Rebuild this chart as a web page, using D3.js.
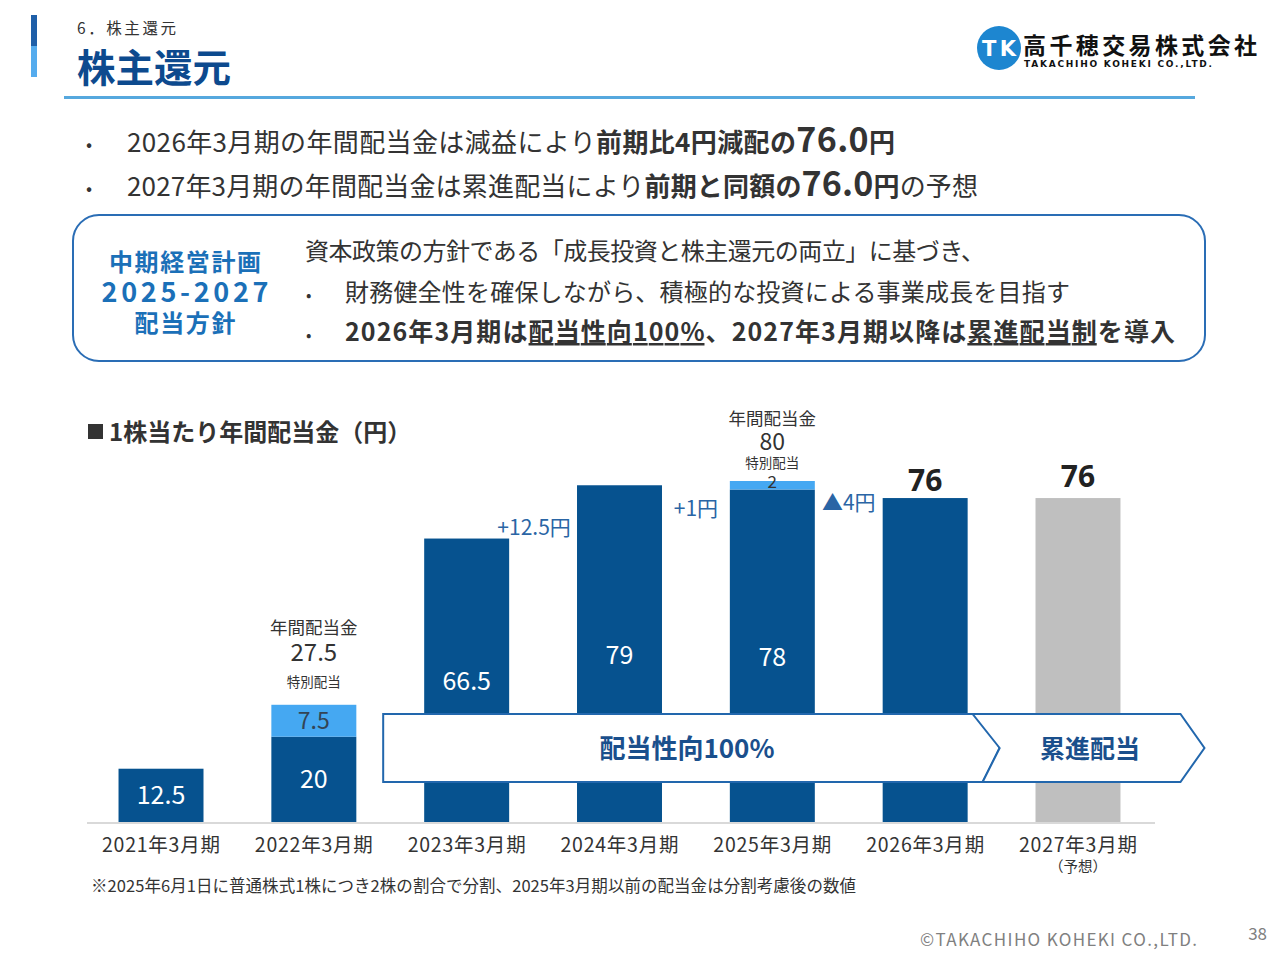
<!DOCTYPE html>
<html>
<head>
<meta charset="utf-8">
<script src="https://cdn.jsdelivr.net/npm/d3@7"></script>
<style>
  body { margin: 0; background: #fff; }
  svg { display: block; }
</style>
</head>
<body>
<script>
// 1株当たり年間配当金（円）
const periods = ["2021年3月期", "2022年3月期", "2023年3月期", "2024年3月期", "2025年3月期", "2026年3月期", "2027年3月期"];
const regular = [12.5, 20, 66.5, 79, 78, 76, 76];
const special = [0, 7.5, 0, 0, 2, 0, 0];
const forecast = [false, false, false, false, false, false, true];
const changeLabels = ["", "", "", "+12.5円", "+1円", "▲4円", ""];
const bannerLabels = ["配当性向100%", "累進配当"];

const width = 1280;
const height = 960;
const JP = "'Noto Sans CJK JP', 'Noto Sans', sans-serif";
const dark = "#06528f";
const light = "#45a8f2";
const grey = "#bfbfbf";
const textCol = "#333333";

const svg = d3.select("body").append("svg")
    .attr("width", width)
    .attr("height", height)
    .style("font-family", JP);

// ---- header ----
svg.append("rect").attr("x", 31).attr("y", 15).attr("width", 6).attr("height", 31).attr("fill", "#1f5fa8");
svg.append("rect").attr("x", 31).attr("y", 46).attr("width", 6).attr("height", 31).attr("fill", "#55acee");
svg.append("text").attr("x", 77).attr("y", 34).text("6．株主還元")
    .style("font-size", "15.5px").style("fill", textCol).attr("textLength", 99);
svg.append("text").attr("x", 77).attr("y", 82).text("株主還元")
    .style("font-size", "38.5px").style("font-weight", 700).style("fill", "#0d4a8e");
svg.append("rect").attr("x", 64).attr("y", 96).attr("width", 1131).attr("height", 3).attr("fill", "#56a8de");

// logo
svg.append("circle").attr("cx", 999).attr("cy", 48).attr("r", 22).attr("fill", "#1d86d0");
svg.append("text").attr("x", 999).attr("y", 56).text("TK")
    .style("font-family", "'DejaVu Sans', sans-serif").style("font-size", "21px").style("font-weight", 700)
    .style("fill", "#fff").style("text-anchor", "middle").attr("textLength", 34);
svg.append("text").attr("x", 1023).attr("y", 54).text("高千穂交易株式会社")
    .style("font-size", "23px").style("font-weight", 700).style("fill", "#111").attr("textLength", 234);
svg.append("text").attr("x", 1024).attr("y", 67).text("TAKACHIHO KOHEKI CO.,LTD.")
    .style("font-family", "'DejaVu Sans', sans-serif").style("font-size", "9px").style("font-weight", 700)
    .style("fill", "#111").attr("textLength", 188);

// ---- bullets ----
function bulletLine(x, y, parts, size, len) {
    const t = svg.append("text").attr("x", x).attr("y", y).style("fill", textCol).style("font-size", size + "px");
    parts.forEach(p => {
        const s = t.append("tspan").text(p.t);
        if (p.b) s.style("font-weight", 700);
        if (p.s) s.style("font-size", p.s + "px");
        if (p.u) s.style("text-decoration", "underline");
    });
    if (len) t.attr("textLength", len);
    return t;
}
svg.append("text").attr("x", 86).attr("y", 151).text("•").style("font-size", "18px").style("fill", textCol);
svg.append("text").attr("x", 86).attr("y", 195).text("•").style("font-size", "18px").style("fill", textCol);
bulletLine(127, 152, [
    {t: "2026年3月期の年間配当金は減益により"},
    {t: "前期比4円減配の", b: true},
    {t: "76.0", b: true, s: 34},
    {t: "円", b: true}
], 26, 768);
bulletLine(127, 196, [
    {t: "2027年3月期の年間配当金は累進配当により"},
    {t: "前期と同額の", b: true},
    {t: "76.0", b: true, s: 34},
    {t: "円", b: true},
    {t: "の予想"}
], 26, 851);

// ---- policy box ----
svg.append("rect").attr("x", 73).attr("y", 215).attr("width", 1132).attr("height", 146).attr("rx", 26)
    .attr("fill", "none").attr("stroke", "#2a6db5").attr("stroke-width", 2);
[["中期経営計画", 271, 24, 152], ["2025-2027", 302, 27, 167], ["配当方針", 332, 24, 101]].forEach(d => {
    svg.append("text").attr("x", 185).attr("y", d[1]).text(d[0])
        .style("font-size", d[2] + "px").style("font-weight", 700).style("fill", "#1b70b8")
        .style("text-anchor", "middle").attr("textLength", d[3]);
});
bulletLine(305, 260, [{t: "資本政策の方針である「成長投資と株主還元の両立」に基づき、"}], 24, 680);
svg.append("text").attr("x", 306).attr("y", 301).text("•").style("font-size", "16px").style("fill", textCol);
svg.append("text").attr("x", 306).attr("y", 341).text("•").style("font-size", "16px").style("fill", textCol);
bulletLine(345, 301, [{t: "財務健全性を確保しながら、積極的な投資による事業成長を目指す"}], 24, 725);
bulletLine(345, 341, [
    {t: "2026年3月期は", b: true},
    {t: "配当性向100%", b: true, u: true},
    {t: "、2027年3月期以降は", b: true},
    {t: "累進配当制", b: true, u: true},
    {t: "を導入", b: true}
], 25, 830);

// ---- chart ----
svg.append("rect").attr("x", 88).attr("y", 424).attr("width", 15).attr("height", 15).attr("fill", textCol);
svg.append("text").attr("x", 109).attr("y", 441).text("1株当たり年間配当金（円）")
    .style("font-size", "24px").style("font-weight", 700).style("fill", textCol);

const x = d3.scaleBand()
    .domain(periods)
    .range([84.6, 1154.4])
    .paddingInner(0.444)
    .paddingOuter(0.222);
const y = d3.scaleLinear()
    .domain([0, 80])
    .range([822, 481]);
const bw = x.bandwidth();

const rows = periods.map((p, i) => ({p, reg: regular[i], sp: special[i], fc: forecast[i], ch: changeLabels[i], i}));

const bars = svg.append("g");
bars.selectAll("rect.reg").data(rows).join("rect")
    .attr("class", "reg")
    .attr("x", d => x(d.p)).attr("width", bw)
    .attr("y", d => y(d.reg)).attr("height", d => y(0) - y(d.reg))
    .attr("fill", d => d.fc ? grey : dark);
bars.selectAll("rect.sp").data(rows.filter(d => d.sp > 0)).join("rect")
    .attr("class", "sp")
    .attr("x", d => x(d.p)).attr("width", bw)
    .attr("y", d => y(d.reg + d.sp)).attr("height", d => y(d.reg) - y(d.reg + d.sp))
    .attr("fill", light);

// axis
const axis = svg.append("g")
    .attr("transform", `translate(0,${y(0)})`)
    .call(d3.axisBottom(x).tickSize(0).tickPadding(16));
axis.select(".domain").attr("stroke", "#d9d9d9").attr("stroke-width", 2).attr("d", "M87,1H1155");
axis.selectAll(".tick text")
    .style("font-family", JP).style("font-size", "19.5px").style("fill", textCol)
    .attr("textLength", 118);
axis.selectAll(".tick").filter(d => forecast[periods.indexOf(d)])
    .append("text").attr("y", 50).text("（予想）")
    .style("font-family", JP).style("font-size", "14.5px").style("fill", textCol)
    .style("text-anchor", "middle");

// banner (drawn over bars)
const i2 = periods[2], i5 = periods[5], i6 = periods[6];
const bTop = 714, bBot = 782, bMid = (bTop + bBot) / 2;
const bLeft = x(i2) - 41;
const bSplit = x(i5) + bw + 15;
const bEnd = x(i6) + bw + 60;
const tip = 17, tip2 = 24;
const banner = svg.append("g");
banner.append("path")
    .attr("d", `M${bLeft},${bTop}H${bSplit}L${bSplit + tip},${bMid}L${bSplit},${bBot}H${bLeft}Z`)
    .attr("fill", "#fff").attr("stroke", "#2267ad").attr("stroke-width", 2);
banner.append("path")
    .attr("d", `M${bSplit - 10},${bTop}H${bEnd}L${bEnd + tip2},${bMid}L${bEnd},${bBot}H${bSplit}L${bSplit + tip},${bMid}Z`)
    .attr("fill", "#fff").attr("stroke", "#2267ad").attr("stroke-width", 2);
banner.append("text").attr("x", (bLeft + bSplit) / 2 + 4).attr("y", bMid + 10).text(bannerLabels[0])
    .style("font-size", "26px").style("font-weight", 700).style("fill", "#1a4f8c").style("text-anchor", "middle");
banner.append("text").attr("x", (bSplit + tip + bEnd) / 2).attr("y", bMid + 10).text(bannerLabels[1])
    .style("font-size", "25px").style("font-weight", 700).style("fill", "#1a4f8c").style("text-anchor", "middle");

// inside labels
const labels = svg.append("g").style("text-anchor", "middle");
rows.filter(d => d.i < 5).forEach(d => {
    const cx = x(d.p) + bw / 2;
    const top = y(d.reg);
    let cy;
    if (top < bTop) cy = (top + bTop) / 2 + 55;
    else cy = (top + y(0)) / 2;
    labels.append("text").attr("x", cx).attr("y", cy + 9).text(d.reg)
        .style("font-size", "25px").style("fill", "#fff");
});
rows.filter(d => d.sp >= 5).forEach(d => {
    labels.append("text").attr("x", x(d.p) + bw / 2).attr("y", (y(d.reg) + y(d.reg + d.sp)) / 2 + 8).text(d.sp)
        .style("font-size", "23px").style("fill", "#334455");
});

// totals with special dividend
rows.filter(d => d.sp > 0).forEach(d => {
    const cx = x(d.p) + bw / 2;
    const top = y(d.reg + d.sp);
    const big = d.sp >= 5;
    labels.append("text").attr("x", cx).attr("y", top - (big ? 71 : 56)).text("年間配当金")
        .style("font-size", "17.5px").style("fill", textCol);
    labels.append("text").attr("x", cx).attr("y", top - (big ? 44 : 31)).text(d.reg + d.sp)
        .style("font-size", big ? "24px" : "23px").style("fill", textCol);
    labels.append("text").attr("x", cx).attr("y", top - (big ? 18 : 13)).text("特別配当")
        .style("font-size", "13.5px").style("fill", textCol);
    if (!big) {
        labels.append("text").attr("x", cx).attr("y", top + 7).text(d.sp)
            .style("font-size", "17px").style("fill", textCol);
    }
});

// plain totals for last two years
rows.filter(d => d.i >= 5).forEach(d => {
    labels.append("text").attr("x", x(d.p) + bw / 2).attr("y", y(d.reg) - (d.fc ? 11 : 7)).text(d.reg)
        .style("font-family", "'Noto Sans', sans-serif")
        .style("font-size", "30px").style("font-weight", 700).style("fill", "#222");
});

// year-over-year changes, between bars
const chY = {3: 527, 4: 508, 5: 502};
rows.filter(d => d.ch).forEach(d => {
    const prev = periods[d.i - 1];
    const gx = (x(prev) + bw + x(d.p)) / 2;
    labels.append("text").attr("x", gx - (d.i === 3 ? 9 : 0)).attr("y", chY[d.i] + 8).text(d.ch)
        .style("font-size", "21px").style("fill", "#2a65a5");
});

// footnote & footer
svg.append("text").attr("x", 91).attr("y", 892)
    .text("※2025年6月1日に普通株式1株につき2株の割合で分割、2025年3月期以前の配当金は分割考慮後の数値")
    .style("font-size", "16.5px").style("fill", textCol).attr("textLength", 765);
svg.append("text").attr("x", 920).attr("y", 946).text("©TAKACHIHO KOHEKI CO.,LTD.")
    .style("font-size", "17px").style("fill", "#808080").attr("textLength", 277);
svg.append("text").attr("x", 1267).attr("y", 940).text("38")
    .style("font-size", "17px").style("fill", "#808080").style("text-anchor", "end");
</script>
</body>
</html>
